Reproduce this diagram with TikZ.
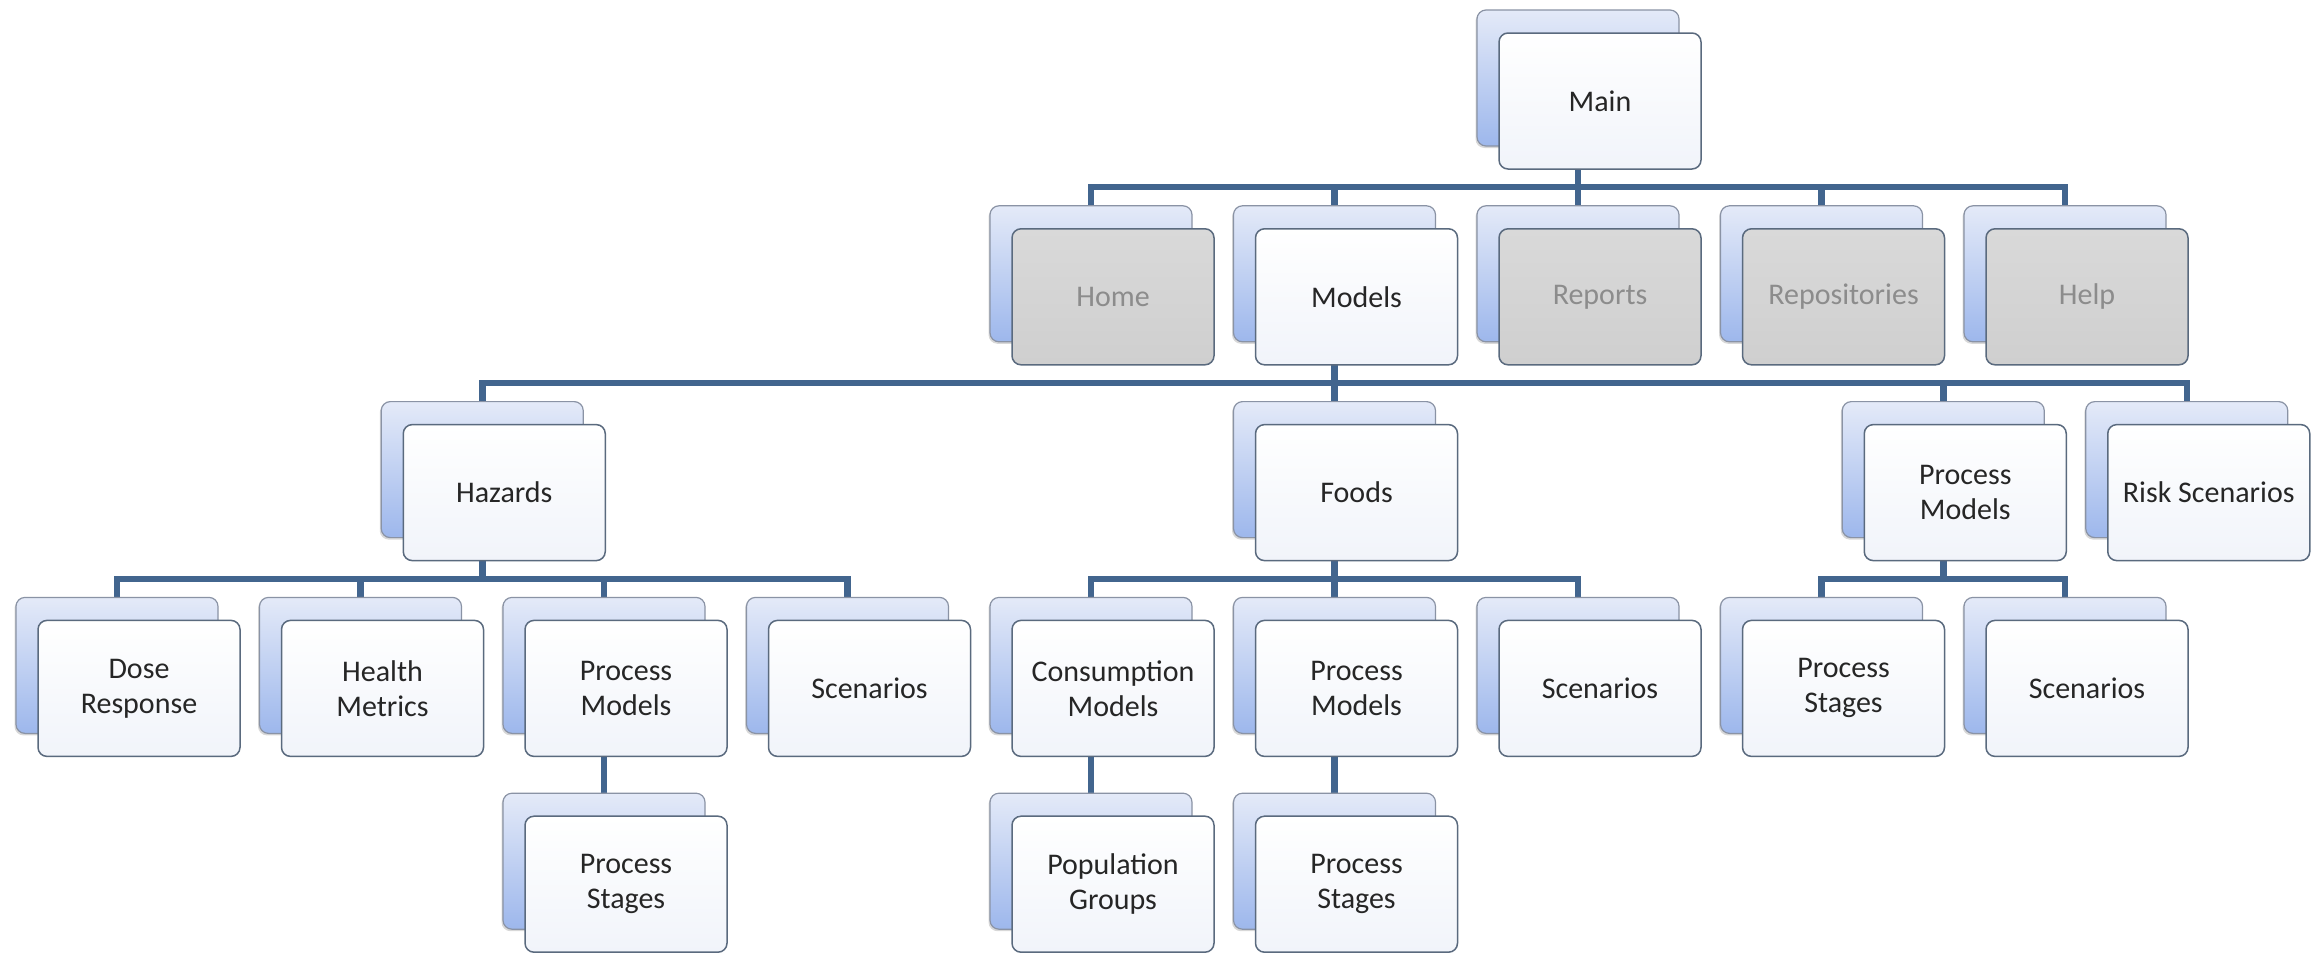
\documentclass[tikz,border=0pt]{standalone}
\usepackage{fontspec}
\setmainfont{Carlito}
\usetikzlibrary{shadows}
\pgfdeclarelayer{background}
\pgfsetlayers{background,main}

\definecolor{backtop}{HTML}{E4EAF8}
\definecolor{backbot}{HTML}{9DB7EC}
\definecolor{backedge}{HTML}{8A93A5}
\definecolor{frontedge}{HTML}{5A6A7E}
\definecolor{frontbot}{HTML}{F1F4FA}
\definecolor{offtop}{HTML}{D9D9D9}
\definecolor{offbot}{HTML}{CFCFCF}
\definecolor{ink}{HTML}{262626}
\definecolor{offink}{HTML}{8C8C8C}
\definecolor{linkblue}{HTML}{42658E}

\tikzset{
  backcard/.style={draw=backedge, line width=1.2pt, rounded corners=9pt,
    minimum width=202pt, minimum height=136pt, inner sep=0pt,
    top color=backtop, bottom color=backbot,
    drop shadow={shadow xshift=-1.5pt, shadow yshift=-2pt, opacity=0.3}},
  frontcard/.style={draw=frontedge, line width=1.5pt, rounded corners=9pt,
    minimum width=202pt, minimum height=136pt, inner sep=2pt,
    top color=white, bottom color=frontbot, text=ink, align=center,
    font=\fontsize{30}{35}\selectfont},
  offcard/.style={frontcard, top color=offtop, bottom color=offbot, text=offink},
  link/.style={draw=linkblue, line width=6.5pt}
}

% one chart entry: name, column, row, label, style of the front card
\newcommand\orgitem[5]{%
  \node[backcard] (#1-b) at ({16+243.5*#2+101}, {10+195.8*#3+68}) {};
  \node[#5] (#1) at ({16+243.5*#2+123}, {10+195.8*#3+91}) {#4};
}

\begin{document}
\begin{tikzpicture}[x=1pt, y=-1pt]
  \useasboundingbox (0,0) rectangle (2323,953);

  % level 0 and 1
  \orgitem{main}{6}{0}{Main}{frontcard}
  \orgitem{home}{4}{1}{Home}{offcard}
  \orgitem{models}{5}{1}{Models}{frontcard}
  \orgitem{reports}{6}{1}{Reports}{offcard}
  \orgitem{repos}{7}{1}{Repositories}{offcard}
  \orgitem{help}{8}{1}{Help}{offcard}

  % level 2
  \orgitem{hazards}{1.5}{2}{Hazards}{frontcard}
  \orgitem{foods}{5}{2}{Foods}{frontcard}
  \orgitem{procmodels}{7.5}{2}{Process\\Models}{frontcard}
  \orgitem{risk}{8.5}{2}{Risk Scenarios}{frontcard}

  % level 3
  \orgitem{dose}{0}{3}{Dose\\Response}{frontcard}
  \orgitem{health}{1}{3}{Health\\Metrics}{frontcard}
  \orgitem{hzproc}{2}{3}{Process\\Models}{frontcard}
  \orgitem{hzscen}{3}{3}{Scenarios}{frontcard}
  \orgitem{consum}{4}{3}{Consumption\\Models}{frontcard}
  \orgitem{fdproc}{5}{3}{Process\\Models}{frontcard}
  \orgitem{fdscen}{6}{3}{Scenarios}{frontcard}
  \orgitem{pmstages}{7}{3}{Process\\Stages}{frontcard}
  \orgitem{pmscen}{8}{3}{Scenarios}{frontcard}

  % level 4
  \orgitem{hzstages}{2}{4}{Process\\Stages}{frontcard}
  \orgitem{popgroups}{4}{4}{Population\\Groups}{frontcard}
  \orgitem{fdstages}{5}{4}{Process\\Stages}{frontcard}

  % white page and elbow connectors, behind the cards
  \begin{pgfonlayer}{background}
    \fill[white] (0,0) rectangle (2323,953);
    \foreach \pa/\ch in {main/home, main/models, main/reports, main/repos, main/help,
        models/hazards, models/foods, models/procmodels, models/risk,
        hazards/dose, hazards/health, hazards/hzproc, hazards/hzscen,
        foods/consum, foods/fdproc, foods/fdscen,
        procmodels/pmstages, procmodels/pmscen,
        hzproc/hzstages, consum/popgroups, fdproc/fdstages}
      \draw[link] (\pa-b.center) |- ([yshift=18pt]\ch-b.north) -- (\ch-b.north);
  \end{pgfonlayer}
\end{tikzpicture}
\end{document}
